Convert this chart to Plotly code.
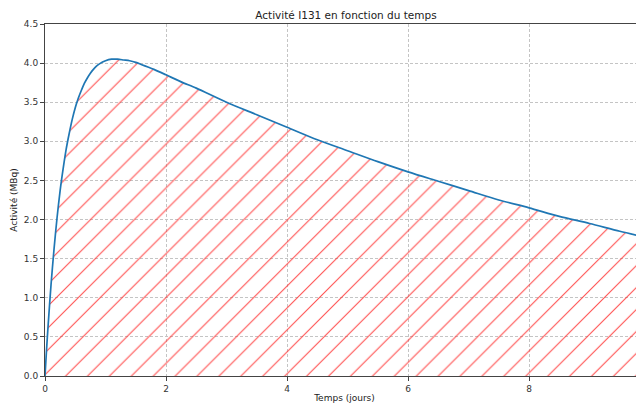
import plotly.graph_objects as go

# Values
temps_jours = [0, 0.025, 0.05, 0.1, 0.15, 0.2, 0.25, 0.3, 0.35, 0.4, 0.45, 0.5, 0.55,
               0.6, 0.65, 0.7, 0.75, 0.8, 0.85, 0.9, 1.0, 1.1, 1.2, 1.3, 1.4, 1.5,
               1.6, 1.7, 1.8, 2.0, 2.25, 2.5, 3.0, 3.5, 4.0, 4.5, 5.0, 5.5,
               6.0, 6.5, 7.0, 7.5, 8.0, 8.5, 9.0, 9.5, 10.0]
activite_mbq = [0.0, 0.33, 0.63, 1.17, 1.63, 2.03, 2.37, 2.65, 2.90, 3.10, 3.28, 3.43, 3.55,
                3.65, 3.74, 3.81, 3.87, 3.92, 3.96, 3.99, 4.03, 4.05, 4.05, 4.04, 4.03, 4.01,
                3.98, 3.95, 3.92, 3.85, 3.76, 3.68, 3.50, 3.34, 3.18, 3.02, 2.88, 2.74,
                2.61, 2.49, 2.37, 2.25, 2.15, 2.04, 1.95, 1.85, 1.76]
x_ticks = [0, 2, 4, 6, 8]
y_ticks = [0.0, 0.5, 1.0, 1.5, 2.0, 2.5, 3.0, 3.5, 4.0, 4.5]

FONT = "DejaVu Sans"
W, H = 636, 395  # page body adds an 8px offset

fig = go.Figure()
fig.add_trace(go.Scatter(
    x=temps_jours, y=activite_mbq, mode="lines",
    line=dict(color="#1f77b4", width=1.7, shape="spline", smoothing=0.8),
    fill="tozeroy",
    fillcolor="rgba(0,0,0,0)",
    fillpattern=dict(shape="/", fgcolor="#ff3030", fgopacity=0.85,
                     bgcolor="rgba(255,255,255,0)", size=15.5, solidity=0.07),
    showlegend=False,
))

axis_common = dict(
    showgrid=True, gridcolor="#c4c4c4", griddash="3px,2px", gridwidth=0.8,
    showline=True, linecolor="#444444", linewidth=1,
    ticks="outside", ticklen=4, tickcolor="#444444", tickwidth=1,
    tickfont=dict(family=FONT, size=9, color="#333333"),
    zeroline=False,
)

fig.update_layout(
    width=W, height=H,
    margin=dict(l=37, r=0, t=16, b=27),
    paper_bgcolor="white", plot_bgcolor="white",
    title=dict(text="Activité I131 en fonction du temps", x=(338 / W), xanchor="center",
               y=1 - 7 / H, yanchor="middle",
               font=dict(family=FONT, size=10.5, color="#222222")),
    xaxis=dict(range=[0, 9.9], tickvals=x_ticks, ticktext=[str(v) for v in x_ticks],
               mirror=True, automargin=False,
               title=dict(text="Temps (jours)", font=dict(family=FONT, size=9, color="#222222"),
                          standoff=2),
               **axis_common),
    yaxis=dict(range=[0, 4.5], tickvals=y_ticks, ticktext=[f"{v:.1f}" for v in y_ticks],
               automargin=False,
               title=dict(text="Activité (MBq)", font=dict(family=FONT, size=9, color="#222222"),
                          standoff=4),
               **axis_common),
)

fig.write_html("out.html")
